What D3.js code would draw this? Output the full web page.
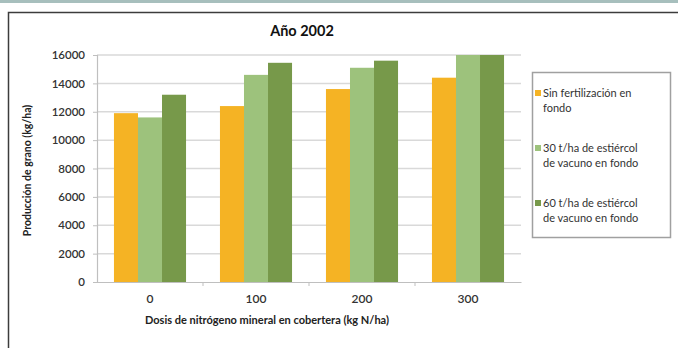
<!DOCTYPE html>
<html>
<head>
<meta charset="utf-8">
<script src="https://cdn.jsdelivr.net/npm/d3@7"></script>
<style>
  html, body { margin: 0; padding: 0; background: #fff; }
  svg { display: block; font-family: Lato, "Open Sans", sans-serif; }
</style>
</head>
<body>
<div id="chart"></div>
<script>
// datos
const categories = ['0', '100', '200', '300'];
const seriesNames = [
  ['Sin fertilización en', 'fondo'],
  ['30 t/ha de estiércol', 'de vacuno en fondo'],
  ['60 t/ha de estiércol', 'de vacuno en fondo']
];
const sinFertilizacion = [11900, 12400, 13600, 14400];
const estiercol30 = [11600, 14600, 15100, 16000];
const estiercol60 = [13200, 15450, 15600, 16000];
const yTicks = [0, 2000, 4000, 6000, 8000, 10000, 12000, 14000, 16000];
const colors = ['#f5b324', '#9dc27c', '#77994a'];

const series = [sinFertilizacion, estiercol30, estiercol60];

const width = 678, height = 348;
const plot = { left: 97, right: 521, top: 55, bottom: 282 };

const svg = d3.select('#chart').append('svg')
  .attr('width', width)
  .attr('height', height);

// línea superior y marco
svg.append('rect').attr('x', 0).attr('y', 0).attr('width', width).attr('height', 3).attr('fill', '#a7bfbd');
svg.append('path')
  .attr('d', `M8.5,${height} L8.5,12.5 L${width},12.5`)
  .attr('fill', 'none').attr('stroke', '#3c3c3c').attr('stroke-width', 1.5);

const x0 = d3.scaleBand().domain(categories).range([plot.left, plot.right]).paddingInner(0.32).paddingOuter(0.16);
const x1 = d3.scaleBand().domain(d3.range(series.length)).range([0, x0.bandwidth()]);
const xEdges = d3.scaleBand().domain(categories).range([plot.left, plot.right]);
const y = d3.scaleLinear().domain([0, 16000]).range([plot.bottom, plot.top]);

// rejilla
svg.append('g').selectAll('line').data(yTicks.filter(d => d > 0)).join('line')
  .attr('x1', plot.left).attr('x2', plot.right)
  .attr('y1', d => y(d)).attr('y2', d => y(d))
  .attr('stroke', '#d9d9d9').attr('stroke-width', 1.5);

// barras
const groups = svg.append('g').selectAll('g').data(categories).join('g')
  .attr('transform', d => `translate(${x0(d)},0)`);
groups.selectAll('rect')
  .data((c, i) => series.map((s, k) => ({ k, v: s[i] })))
  .join('rect')
  .attr('x', d => x1(d.k))
  .attr('width', x1.bandwidth())
  .attr('y', d => y(d.v))
  .attr('height', d => y(0) - y(d.v))
  .attr('fill', d => colors[d.k]);

// eje Y
const yAxis = svg.append('g')
  .attr('transform', `translate(${plot.left},0)`)
  .call(d3.axisLeft(y).tickValues(yTicks).tickSize(4).tickPadding(8).tickFormat(d3.format('d')));
yAxis.select('.domain').attr('stroke', '#bfbfbf').attr('stroke-width', 1.2);
yAxis.selectAll('.tick line').attr('stroke', '#bfbfbf');
yAxis.selectAll('.tick text')
  .attr('fill', '#333').attr('font-size', 11.5).attr('font-weight', 600)
  .attr('font-family', 'Lato, sans-serif');

// eje X
const xAxis = svg.append('g')
  .attr('transform', `translate(0,${plot.bottom})`)
  .call(d3.axisBottom(x0).tickSize(0).tickPadding(12));
xAxis.select('.domain').attr('stroke', '#bfbfbf').attr('stroke-width', 1.2);
xAxis.selectAll('.tick text')
  .attr('fill', '#333').attr('font-size', 12).attr('font-weight', 600)
  .attr('font-family', 'Lato, sans-serif');
svg.append('g').selectAll('line').data(categories.slice(1)).join('line')
  .attr('x1', d => xEdges(d)).attr('x2', d => xEdges(d))
  .attr('y1', plot.bottom).attr('y2', plot.bottom + 4)
  .attr('stroke', '#bfbfbf');

// títulos
svg.append('text')
  .attr('x', 302).attr('y', 36)
  .attr('text-anchor', 'middle')
  .attr('font-size', 14.5).attr('font-weight', 'bold').attr('fill', '#111')
  .text('Año 2002');

svg.append('text')
  .attr('transform', `translate(31,${(plot.top + plot.bottom) / 2 + 2}) rotate(-90)`)
  .attr('text-anchor', 'middle')
  .attr('font-size', 10.5).attr('font-weight', 'bold').attr('fill', '#222')
  .text('Producción de grano (kg/ha)');

svg.append('text')
  .attr('x', 267).attr('y', 324)
  .attr('text-anchor', 'middle')
  .attr('font-size', 11).attr('font-weight', 'bold').attr('fill', '#222')
  .text('Dosis de nitrógeno mineral en cobertera (kg N/ha)');

// leyenda
const legend = svg.append('g');
legend.append('rect')
  .attr('x', 532.5).attr('y', 72.5).attr('width', 138).attr('height', 165)
  .attr('fill', '#fff').attr('stroke', '#a0a0a0').attr('stroke-width', 1.5);
const items = legend.selectAll('g').data(seriesNames).join('g')
  .attr('transform', (d, i) => `translate(0,${93 + i * 55})`);
items.append('rect')
  .attr('x', 535).attr('y', -3).attr('width', 6).attr('height', 6)
  .attr('fill', (d, i) => colors[i]);
items.selectAll('text').data(d => d).join('text')
  .attr('x', 543)
  .attr('y', (d, j) => j * 15.5)
  .attr('dy', '0.35em')
  .attr('font-size', 11).attr('fill', '#333')
  .text(d => d);
</script>
</body>
</html>
